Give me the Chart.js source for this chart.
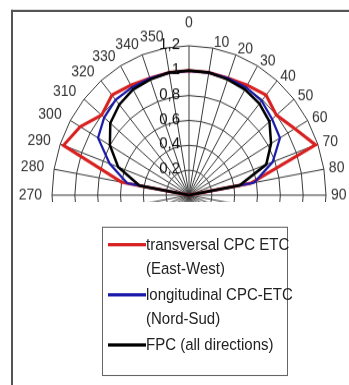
<!DOCTYPE html>
<html>
<head>
<meta charset="utf-8">
<script src="https://cdn.jsdelivr.net/npm/chart.js@4.4.0/dist/chart.umd.min.js"></script>
<style>
  html, body { margin: 0; padding: 0; background: #fff; }
  body { width: 349px; height: 385px; overflow: hidden; position: relative; }
  .page {
    position: absolute; left: 0; top: 0; width: 349px; height: 354px;
    transform: scaleY(1.09); transform-origin: 0 0;
    font-family: "Liberation Sans", Arial, sans-serif;
  }
  .frame {
    position: absolute; left: 11px; top: 9px; width: 360px; height: 380px;
    border-left: 2px solid #555; border-top: 2px solid #555;
  }
  .plot { position: absolute; left: 0; top: 0; width: 349px; height: 185px; overflow: hidden; }
  .plot-inner { position: relative; width: 349px; height: 360px; }
  .legend {
    position: absolute; left: 102px; top: 208px; width: 186px; height: 137px;
    border: 1px solid #666; padding-top: 4px; box-sizing: border-box;
    font-size: 15px; line-height: 22px; color: #222;
  }
  .legend .item { position: relative; padding-left: 43px; margin-bottom: 2px; white-space: pre; }
  .legend .swatch { position: absolute; left: 5px; top: 10px; width: 38px; height: 3px; }
</style>
</head>
<body>
<div class="page">
  <div class="frame"></div>
  <div class="plot"><div class="plot-inner"><canvas id="polar"></canvas></div></div>
  <div class="legend" id="legend"></div>
</div>
<script>
// angle categories, clockwise from the top
const angleLabels = ['0', '10', '20', '30', '40', '50', '60', '70', '80', '90',
  '100', '110', '120', '130', '140', '150', '160', '170', '180',
  '190', '200', '210', '220', '230', '240', '250', '260',
  '270', '280', '290', '300', '310', '320', '330', '340', '350'];

// incidence angle modifier, lower half not shown in the picture
const transversal = [1.0, 1.0, 1.0, 1.02, 1.05, 1.0, 1.07, 1.18, 0.55, 0,
  null, null, null, null, null, null, null, null, null,
  null, null, null, null, null, null, null, null,
  0, 0.6, 1.17, 1.1, 1.0, 1.05, 1.02, 1.0, 1.0];
const longitudinal = [1.0, 1.0, 1.0, 1.0, 0.99, 0.95, 0.92, 0.78, 0.58, 0,
  null, null, null, null, null, null, null, null, null,
  null, null, null, null, null, null, null, null,
  0, 0.55, 0.74, 0.92, 0.97, 1.0, 1.0, 1.0, 1.0];
const fpc = [1.0, 1.0, 0.99, 0.98, 0.96, 0.92, 0.83, 0.72, 0.45, 0,
  null, null, null, null, null, null, null, null, null,
  null, null, null, null, null, null, null, null,
  0, 0.44, 0.66, 0.8, 0.9, 0.95, 0.98, 0.99, 1.0];

const tickValues = [0.2, 0.4, 0.6, 0.8, 1, 1.2];
const tickLabels = ['0,2', '0,4', '0,6', '0,8', '1', '1,2'];

const seriesNames = ['transversal CPC ETC\n(East-West)', 'longitudinal CPC-ETC\n(Nord-Sud)', 'FPC (all directions)'];
const seriesColors = ['#d82020', '#1a1aa8', '#000000'];

const FONT = '"Liberation Sans", Arial, sans-serif';

// tick labels and angle labels drawn from the r scale
const polarText = {
  id: 'polarText',
  afterDatasetsDraw(chart) {
    const r = chart.scales.r;
    const ctx = chart.ctx;
    ctx.save();
    ctx.fillStyle = '#111';
    ctx.font = '15px ' + FONT;
    ctx.textAlign = 'right';
    ctx.textBaseline = 'middle';
    tickValues.forEach((v, i) => {
      const d = r.getDistanceFromCenterForValue(v);
      ctx.fillText(tickLabels[i], r.xCenter - 9, r.yCenter - d - 1);
    });

    ctx.fillStyle = '#333';
    ctx.font = '14px ' + FONT;
    angleLabels.forEach((lab, i) => {
      const a = Number(lab);
      let pad = 10;
      ctx.textBaseline = 'middle';
      if (a === 0) {
        ctx.textAlign = 'center';
        ctx.textBaseline = 'alphabetic';
        pad = 17;
      } else if (a < 180) {
        ctx.textAlign = 'left';
        pad = 5;
      } else {
        ctx.textAlign = 'right';
      }
      const p = r.getPointPosition(i, r.drawingArea + pad);
      ctx.fillText(lab, p.x, p.y);
    });
    ctx.restore();
  }
};

const datasets = [transversal, longitudinal, fpc].map((vals, i) => ({
  label: seriesNames[i],
  data: vals,
  borderColor: seriesColors[i],
  backgroundColor: seriesColors[i],
  borderWidth: [3, 2.2, 2.5][i],
  pointRadius: 0,
  fill: false,
  tension: 0,
  spanGaps: false,
  order: [2, 1, 0][i]
}));

const chart = new Chart(document.getElementById('polar'), {
  type: 'radar',
  data: { labels: angleLabels, datasets: datasets },
  options: {
    responsive: true,
    maintainAspectRatio: false,
    animation: false,
    layout: { padding: { left: 52, right: 22, top: 42, bottom: 43 } },
    plugins: { legend: { display: false }, tooltip: { enabled: false } },
    scales: {
      r: {
        min: 0,
        max: 1.2,
        startAngle: 0,
        ticks: { display: false, stepSize: 0.2 },
        grid: { color: '#3a3a3a', lineWidth: 1 },
        angleLines: { display: true, color: '#3a3a3a', lineWidth: 1 },
        pointLabels: { display: false }
      }
    }
  },
  plugins: [polarText]
});

// legend
const legend = document.getElementById('legend');
chart.data.datasets.forEach(ds => {
  const item = document.createElement('div');
  item.className = 'item';
  item.textContent = ds.label;
  const sw = document.createElement('span');
  sw.className = 'swatch';
  sw.style.background = ds.borderColor;
  item.appendChild(sw);
  legend.appendChild(item);
});
</script>
</body>
</html>
